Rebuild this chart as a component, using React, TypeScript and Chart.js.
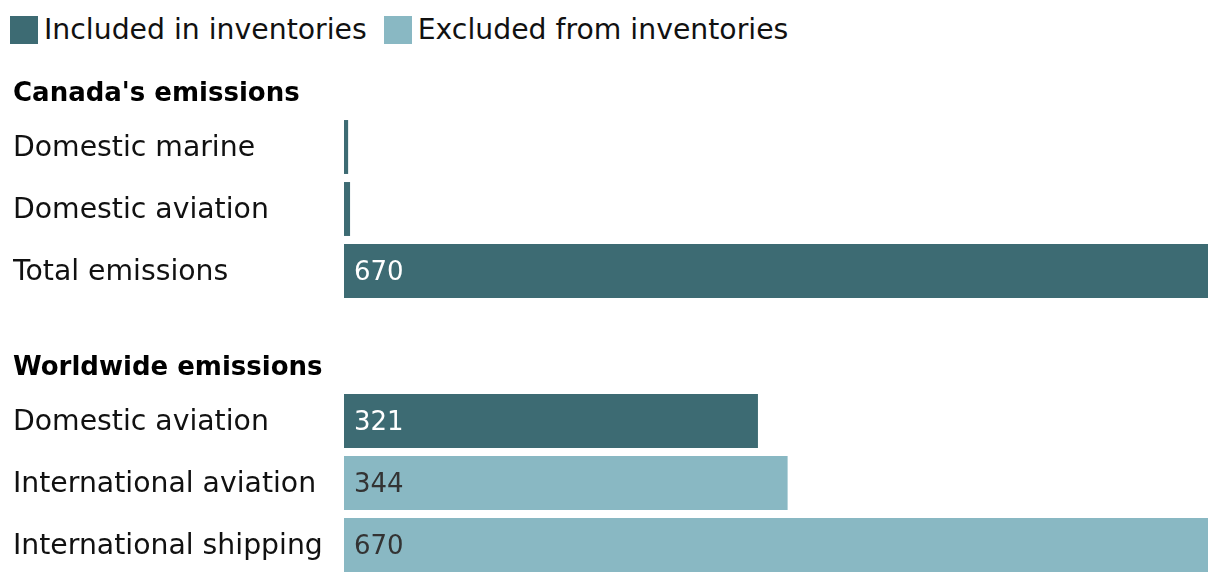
import React, { useEffect, useRef } from "react";
import { Chart, registerables } from "chart.js";

Chart.register(...registerables);

const FONT = "'DejaVu Sans', sans-serif";
const LABEL_SIZE = 28.3;
const TITLE_SIZE = 26;
const VALUE_SIZE = 26;

const legendLabels = ["Included in inventories", "Excluded from inventories"];
const colorIncluded = "#3d6b73";
const colorExcluded = "#89b8c3";

const canadaTitle = "Canada's emissions";
const canadaCategories = ["Domestic marine", "Domestic aviation", "Total emissions"];
const canadaValues = [3.2, 4.7, 670];
const canadaIncluded = [true, true, true];

const worldTitle = "Worldwide emissions";
const worldCategories = ["Domestic aviation", "International aviation", "International shipping"];
const worldValues = [321, 344, 670];
const worldIncluded = [true, false, false];

const xMax = 670;
const labelThreshold = 50;

const valueLabelPlugin = {
  id: "valueLabels",
  afterDatasetsDraw(chart: any) {
    const ctx = chart.ctx;
    const included: boolean[] = chart.options.plugins.valueLabels.included;
    const meta = chart.getDatasetMeta(0);
    const data = chart.data.datasets[0].data as number[];
    ctx.save();
    ctx.font = `normal ${VALUE_SIZE}px ${FONT}`;
    ctx.textAlign = "left";
    ctx.textBaseline = "middle";
    meta.data.forEach((bar: any, i: number) => {
      const v = data[i];
      if (v < labelThreshold) return;
      ctx.fillStyle = included[i] ? "#ffffff" : "#333333";
      ctx.fillText(String(v), bar.base + 10, bar.y + 2);
    });
    ctx.restore();
  },
};

function makeConfig(
  title: string,
  categories: string[],
  values: number[],
  included: boolean[],
  titlePad: { top: number; bottom: number },
  bottomPad: number
): any {
  return {
    type: "bar",
    data: {
      labels: categories,
      datasets: [
        {
          data: values,
          backgroundColor: included.map((b) => (b ? colorIncluded : colorExcluded)),
          borderWidth: 0,
          barPercentage: 0.87,
          categoryPercentage: 1,
        },
      ],
    },
    options: {
      indexAxis: "y",
      animation: false,
      responsive: false,
      maintainAspectRatio: false,
      layout: { autoPadding: false, padding: { left: 5, right: 4, top: 0, bottom: bottomPad } },
      scales: {
        x: { display: false, min: 0, max: xMax },
        y: {
          grid: { display: false },
          border: { display: false },
          ticks: {
            crossAlign: "far",
            padding: 0,
            labelOffset: 2,
            color: "#111111",
            font: { family: FONT, size: LABEL_SIZE },
          },
          afterFit(scale: any) {
            scale.width = 331;
            scale.paddingTop = 0;
            scale.paddingBottom = 0;
          },
        },
      },
      plugins: {
        legend: { display: false },
        tooltip: { enabled: false },
        title: {
          display: true,
          text: title,
          align: "start",
          color: "#000000",
          font: { family: FONT, size: TITLE_SIZE, weight: "bold", lineHeight: 1.2 },
          padding: titlePad,
        },
        valueLabels: { included },
      },
    },
    plugins: [valueLabelPlugin],
  };
}

function BarBlock(props: {
  title: string;
  categories: string[];
  values: number[];
  included: boolean[];
  height: number;
  titlePad: { top: number; bottom: number };
  bottomPad: number;
}) {
  const ref = useRef<HTMLCanvasElement | null>(null);
  useEffect(() => {
    if (!ref.current) return;
    const chart = new Chart(
      ref.current,
      makeConfig(props.title, props.categories, props.values, props.included, props.titlePad, props.bottomPad)
    );
    return () => chart.destroy();
  }, []);
  return (
    <canvas
      ref={ref}
      width={1204}
      height={props.height}
      style={{ display: "block", width: 1204, height: props.height }}
    />
  );
}

export default function App() {
  return (
    <div style={{ width: 1204, fontFamily: FONT }}>
      <div style={{ height: 28, paddingTop: 8, paddingBottom: 16, display: "flex", alignItems: "center" }}>
        {legendLabels.map((l, i) => (
          <div key={l} style={{ display: "flex", alignItems: "center", marginLeft: i === 0 ? 2 : 17, height: 28 }}>
            <span
              style={{
                display: "inline-block",
                width: 28,
                height: 28,
                background: i === 0 ? colorIncluded : colorExcluded,
                marginRight: 6,
              }}
            />
            <span style={{ fontSize: LABEL_SIZE, color: "#111111", lineHeight: "28px", whiteSpace: "nowrap" }}>{l}</span>
          </div>
        ))}
      </div>
      <BarBlock
        title={canadaTitle}
        categories={canadaCategories}
        values={canadaValues}
        included={canadaIncluded}
        height={242}
        titlePad={{ top: 18.4, bottom: 6.4 }}
        bottomPad={0}
      />
      <BarBlock
        title={worldTitle}
        categories={worldCategories}
        values={worldValues}
        included={worldIncluded}
        height={278}
        titlePad={{ top: 50.4, bottom: 6.4 }}
        bottomPad={4}
      />
    </div>
  );
}
